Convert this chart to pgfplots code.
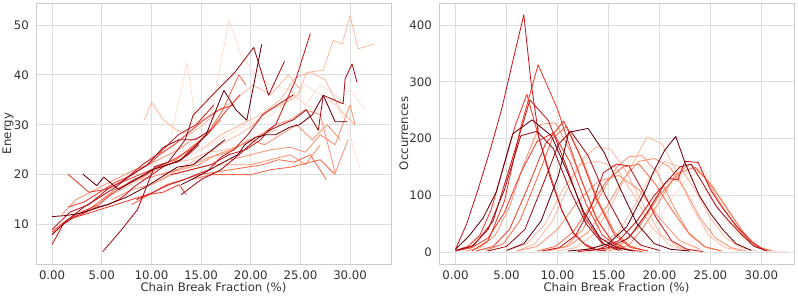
\documentclass[border=0pt]{standalone}
\usepackage{fontspec}
\setmainfont{DejaVu Sans}
\usepackage{pgfplots}
\pgfplotsset{compat=1.18}
\definecolor{ca}{HTML}{FEE0D2}
\definecolor{cb}{HTML}{FCBBA1}
\definecolor{cc}{HTML}{FC9272}
\definecolor{cd}{HTML}{FB6A4A}
\definecolor{ce}{HTML}{EF3B2C}
\definecolor{cf}{HTML}{CB181D}
\definecolor{cg}{HTML}{A50F15}
\definecolor{ch}{HTML}{67000D}
\definecolor{gridc}{HTML}{DDDDDD}
\definecolor{framec}{HTML}{CCCCCC}
\definecolor{labc}{HTML}{333333}
\pgfplotsset{
  sbstyle/.style={
    scale only axis, width=355bp, height=261bp,
    axis line style={draw=framec, line width=0.8bp},
    grid=major, major grid style={draw=gridc, line width=0.8bp},
    major tick length=0pt, tick style={draw=none},
    tick label style={font=\fontsize{11.8}{13}\selectfont, text=labc},
    label style={font=\fontsize{11.8}{13}\selectfont, text=labc},
    /pgf/number format/assume math mode=true,
    xtick={0,5,10,15,20,25,30},
    xticklabel style={anchor=north, inner sep=0pt, yshift=-6.5bp,
      /pgf/number format/.cd, fixed, fixed zerofill, precision=2},
    yticklabel style={anchor=east, inner sep=0pt, xshift=-7bp},
    xlabel style={at={(axis description cs:0.5,-0.092)}, anchor=center},
    every axis plot/.append style={line width=0.85bp, line join=round, no markers},
  }
}
\begin{document}
\begin{tikzpicture}
\path[use as bounding box] (-36bp,-33bp) rectangle (762bp,264bp);
% ---------------- Left: Energy ----------------
\begin{axis}[sbstyle, at={(0,0)}, anchor=south west,
  xmin=-1.62, xmax=34.12, ymin=2.1, ymax=54.4,
  ytick={10,20,30,40,50},
  xlabel={Chain Break Fraction (\%)}, ylabel={Energy},
  ylabel style={at={(axis description cs:-0.079,0.5)}, anchor=center, rotate=0}]
\addplot[ca] coordinates {(12,28)(13.6,42.5)(14.5,30)(16,32)(17.8,51)(19,44)(20.5,40)(22,38)(24,37)(25.5,34)(27,38)(28.5,36)(30,33)};
\addplot[ca] coordinates {(14,24)(16,26)(17.8,28)(19.5,30)(21.2,31)(22.8,33)(24.2,36)(25.5,34)(26.8,33)(28.2,35)(29.5,31)(31,21.3)};
\addplot[ca] coordinates {(20,30)(22,33)(24,35)(25.5,38)(27,36)(28.5,34)(30,37)(31.5,33)};
\addplot[cb] coordinates {(9.3,31)(10,34.5)(11.2,31)(12.5,29)(13.8,28)(15.2,30)(16.8,33)(18.5,35)(20.2,38)(22,36)(23.8,40)(25,37)};
\addplot[cb] coordinates {(5,15)(7,17)(8.8,19)(10.5,21)(12.3,22.5)(14,23)(15.7,24.5)(17.5,25)(19.2,26)(21,28)(22.7,29)};
\addplot[cb] coordinates {(15,25)(17,28)(19,30)(21,32)(23,35)(24.5,39.5)(26,40.5)(27.5,39)(29,33)(30.5,30)};
\addplot[cb] coordinates {(10,18)(11.8,20)(13.5,22)(15.2,23.5)(16.9,26)(18.8,28)(20.3,30)(21.7,33)(23.2,34)(24.8,36)(25.6,40.5)(27.3,40.9)(28.3,46.9)(29.2,46.2)(30,51.9)(30.8,45.2)(32.4,46.2)};
\addplot[cc] coordinates {(1,12)(2.4,15)(3.9,16.5)(5.3,18)(6.8,19.5)(8.3,21)(9.8,22)(11.2,23.5)(12.7,25)(14.1,27)(15.6,28)(17,31)};
\addplot[cc] coordinates {(9,19)(10.8,20)(12.5,21)(14.2,22)(15.8,23.5)(17,24)(18.3,25)(19.8,27)(21.4,26)(23,28)(24.6,30)(26.2,27)(27.7,30)(29,27)};
\addplot[cc] coordinates {(11,20)(13,21)(14.8,22)(16.5,24)(18,25)(19.5,26.5)(21,28)(22.5,30)(24,31)(25.5,33)(27,32)(28.5,20.3)(29.8,27)};
\addplot[cc] coordinates {(6,15)(8,17)(10,18)(12,20)(14,21)(16,22)(18,22)(20,22)(22,23)(24,24)(25.5,22)(27,26)};
\addplot[cc] coordinates {(18,23)(20,24)(22,25)(24,25.5)(25.5,24.5)(27,28)(28.5,26)(30,34)(30.5,30)};
\addplot[cd] coordinates {(3,12)(4.7,14.5)(6.3,17)(8,18.5)(9.5,20)(10.9,22)(12.5,23)(14,25.5)(15.6,28)(17.2,33)(18.8,40)(19.5,38)};
\addplot[cd] coordinates {(8,14)(9.8,16)(11.5,18)(13.2,19)(14.8,20)(16.4,20.5)(18,21)(19.6,21.5)(21.2,22)(22.8,23)(24.4,22.5)(26,24)(27.6,19)};
\addplot[cd] coordinates {(14,19)(16,20)(18,20)(20,20)(22,21)(24,21.5)(25,22)(27,23)(28.5,20)};
\addplot[ce] coordinates {(1.6,13.5)(3.2,14.5)(4.8,16.5)(6.4,18.5)(8.1,20)(10,22.5)(10.8,24)(12.3,26)(13.8,28.5)(15.3,31)(16.8,33)(18.3,34)};
\addplot[ce] coordinates {(0,8.5)(1.2,10.5)(2.4,12)(3.5,13)(4.7,14)(5.9,16)(7,17.5)(8.2,19)(9.4,20)(10.5,21.5)(11.7,22)(12.9,23)(14,25)};
\addplot[ce] coordinates {(1.6,20.1)(3.7,16.5)(5.3,17)(7,18.5)(8.8,20)(10.6,21.5)(12.2,23)(13.9,25)(15.6,28)(17.2,32)(18.9,36)};
\addplot[ce] coordinates {(0,8)(1.6,11)(3.2,12)(4.8,13)(6.4,14)(8,15)(9.6,16)(11.2,16.5)(12.8,18)(13.5,16)};
\addplot[cf] coordinates {(0,6)(1.1,10)(2.2,11.5)(3.4,12.5)(4.5,13.5)(5.6,14)(6.7,15)(7.4,16)(8.2,17.5)(9.3,19)(10.4,20.5)(11.5,22)(12.6,22.5)(13.7,24)(14.8,26)};
\addplot[cf] coordinates {(0,9)(1.8,12.5)(3.7,14)(5.5,17)(7.3,19)(9.1,22)(10.9,24.5)(12.7,28)(14.5,30)(16.3,34)};
\addplot[cf] coordinates {(8.5,15)(10.2,16.5)(11.8,18)(13.3,19)(14.5,20)(15.8,21)(17,23.5)(18.3,25)(19.7,28)(21.2,32)(22.7,34)(24.3,36)};
\addplot[cf] coordinates {(12,20)(14,21)(16,22)(17.8,24)(19.5,25)(21,27)(21.8,29)(22.5,30)(23.6,34.9)(24.5,38.9)(26,48.3)};
\addplot[cg] coordinates {(0,8)(1.6,11)(3.2,13.5)(4.8,15.5)(6.4,17.5)(8,20)(9.6,22)(11.2,25.5)(12.8,27)(14.4,27)(16,29)};
\addplot[cg] coordinates {(5.1,4.6)(6.8,8.5)(8.6,13)(10.3,21.6)(11.7,22.5)(13.4,27)(14.2,31.9)(16.6,36.9)(18.4,40.5)(20.3,45.5)(21.8,35.9)(23.4,42.7)};
\addplot[cg] coordinates {(13,16)(15,19)(17,21)(18.8,24)(20.5,27)(22,29)(23.1,30)(24.3,31)(25.6,33)(26.8,28.9)(27.3,35.9)(29.3,34.2)(29.5,39.2)(30.2,42.2)(30.7,38.5)};
\addplot[ch] coordinates {(0,11.6)(1.35,11.8)(2.7,12.2)(4,13)(5.6,14)(7.5,15.5)(9.4,17.5)(11,19.5)(12.6,21.5)(14.2,22)(15.8,24.5)(17.4,27)};
\addplot[ch] coordinates {(3.1,20.1)(4.5,17.8)(5.2,19.5)(6.7,17)(8.4,19)(10.1,21)(11.7,22)(13,23)(14.6,26)(15.5,28)(17.3,36.9)(18.5,33)(19.6,30.9)(21.1,46.1)};
\addplot[ch] coordinates {(13,18)(15,20)(16.8,22)(18.7,24)(19.4,26)(20.5,27.5)(21.6,28)(22.5,28)(23.9,29.5)(24.9,30)(26.2,32)(27.3,35.9)(28.5,30.6)(29.7,30.6)};
\end{axis}
% ---------------- Right: Occurrences ----------------
\begin{axis}[sbstyle, at={(403bp,0)}, anchor=south west,
  xmin=-1.62, xmax=33.2, ymin=-20.9, ymax=438.9,
  ytick={0,100,200,300,400},
  xlabel={Chain Break Fraction (\%)}, ylabel={Occurrences},
  ylabel style={at={(axis description cs:-0.099,0.5)}, anchor=center, rotate=0}]
\addplot[ca] coordinates {(12,1)(14,6)(16,20)(17.8,55)(19.5,95)(21,125)(22.5,140)(24,120)(25.5,85)(27,45)(28.5,18)(30,5)(31.5,1)};
\addplot[ca] coordinates {(14,1)(16,8)(17.8,30)(19.5,70)(21.2,120)(22.8,140)(24.2,150)(25.5,110)(26.8,70)(28.2,35)(29.5,12)(31,3)(32.5,1)};
\addplot[ca] coordinates {(16,2)(18,12)(19.5,45)(21,90)(22.5,125)(24,145)(25.5,110)(27,70)(28.5,30)(30,8)(31.5,2)};
\addplot[cb] coordinates {(6,2)(7.8,15)(9.5,55)(11.2,120)(12.5,165)(13.8,185)(15.2,182)(16.8,140)(18.5,80)(20.2,30)(22,8)(23.8,2)};
\addplot[cb] coordinates {(5,2)(7,15)(8.8,50)(10.5,110)(12.3,155)(14,160)(15.7,150)(17.5,100)(19.2,45)(21,12)(22.7,3)};
\addplot[cb] coordinates {(12,2)(14,10)(16,35)(17.5,80)(19,130)(20.5,160)(22,150)(23.5,110)(25,60)(26.5,25)(28,8)(29.5,2)};
\addplot[cb] coordinates {(10,2)(11.8,8)(13.5,30)(15.2,80)(16.9,140)(18.8,203)(20.3,190)(21.7,140)(23.2,80)(24.8,30)(26.4,8)(28,2)};
\addplot[cc] coordinates {(1,2)(2.4,8)(3.9,30)(5.3,80)(6.8,160)(8.3,225)(9.8,228)(11.2,180)(12.7,110)(14.1,50)(15.6,15)(17,3)};
\addplot[cc] coordinates {(9,2)(10.8,10)(12.5,40)(14.2,100)(15.8,150)(17,168)(18.3,170)(19.8,140)(21.4,80)(23,30)(24.6,8)(26.2,2)};
\addplot[cc] coordinates {(9,2)(11,10)(13,35)(14.8,80)(16.5,130)(18,160)(19.5,165)(21,150)(22.5,110)(24,60)(25.5,25)(27,8)(28.5,2)};
\addplot[cc] coordinates {(6,2)(8,10)(10,40)(12,90)(14,125)(16,135)(18,110)(20,60)(22,20)(24,5)};
\addplot[cc] coordinates {(15,2)(17,12)(18.5,45)(20,90)(21.5,135)(23,155)(24.5,130)(26,85)(27.5,45)(29,15)(30.5,3)};
\addplot[cd] coordinates {(3,3)(4.7,15)(6.3,55)(8,130)(9.5,200)(10.9,222)(12.5,160)(14,90)(15.6,35)(17.2,10)(18.8,2)};
\addplot[cd] coordinates {(8,2)(9.8,10)(11.5,35)(13.2,80)(14.8,125)(16.4,150)(18,155)(19.6,120)(21.2,75)(22.8,35)(24.4,10)(26,2)};
\addplot[cd] coordinates {(14,2)(16,10)(18,45)(20,100)(22,140)(23.5,150)(25,120)(26.5,80)(28,40)(29.5,10)(31,2)};
\addplot[ce] coordinates {(1.6,2)(3.2,20)(4.8,90)(6.4,220)(8.1,330)(10,252)(10.8,208)(12.3,130)(13.8,60)(15.3,20)(16.8,5)(18.3,1)};
\addplot[ce] coordinates {(0,3)(1.2,10)(2.4,30)(3.5,75)(4.7,150)(5.9,225)(7,278)(8.2,200)(9.4,130)(10.5,70)(11.7,30)(12.9,10)(14,3)};
\addplot[ce] coordinates {(2,2)(3.7,10)(5.3,40)(7,110)(8.8,190)(10.6,231)(12.2,170)(13.9,90)(15.6,30)(17.2,8)(18.9,2)};
\addplot[ce] coordinates {(0,2)(1.6,8)(3.2,25)(4.8,70)(6.4,140)(8,195)(9.6,210)(11.2,160)(12.8,85)(14.4,30)(16,8)(17.6,2)};
\addplot[cf] coordinates {(0,5)(1.1,50)(2.2,110)(3.4,180)(4.5,250)(5.6,335)(6.7,418)(7.4,300)(8.2,200)(9.3,130)(10.4,75)(11.5,35)(12.6,15)(13.7,5)(14.8,2)};
\addplot[cf] coordinates {(0,2)(1.8,12)(3.7,55)(5.5,160)(7.3,268)(9.1,232)(10.9,150)(12.7,60)(14.5,15)(16.3,3)};
\addplot[cf] coordinates {(8.5,2)(10.2,8)(11.8,30)(13.3,80)(14.5,140)(15.8,155)(17,152)(18.3,110)(19.7,60)(21.2,20)(22.7,5)(24.3,1)};
\addplot[cf] coordinates {(12,1)(14,5)(16,20)(17.8,55)(19.5,100)(21,130)(21.8,127)(22.5,160)(23.8,158)(25,110)(26.3,75)(27.6,45)(28.9,20)(30.3,3)};
\addplot[cg] coordinates {(0,3)(1.6,10)(3.2,40)(4.8,110)(6.4,205)(8,213)(9.6,182)(11.2,110)(12.8,50)(14.4,15)(16,3)};
\addplot[cg] coordinates {(3.2,2)(5,10)(6.8,40)(8.6,120)(10.1,190)(11.3,213)(13,170)(14.7,100)(16.5,40)(18.2,12)(20,3)};
\addplot[cg] coordinates {(13,2)(15,8)(17,25)(18.8,70)(20.5,120)(22,150)(23.1,155)(24.3,120)(25.6,80)(26.8,55)(28.1,30)(29.3,10)(30.6,2)};
\addplot[ch] coordinates {(0,5)(1.35,29)(2.7,60)(4,106)(5.6,208)(7.5,233)(9.4,205)(11,140)(12.6,70)(14.2,25)(15.8,8)(17.4,2)};
\addplot[ch] coordinates {(5,3)(6.7,15)(8.4,55)(10.1,135)(11.1,211)(13,218)(14.6,175)(16.2,110)(17.8,50)(19.5,15)(21.1,5)(23,2)};
\addplot[ch] coordinates {(11,2)(13,5)(15,15)(16.8,45)(18.7,111)(19.4,141)(20.5,179)(21.6,204)(22.5,158)(23.9,100)(24.9,71)(26.2,40)(27.5,15)(29,3)};
\end{axis}
\end{tikzpicture}
\end{document}
